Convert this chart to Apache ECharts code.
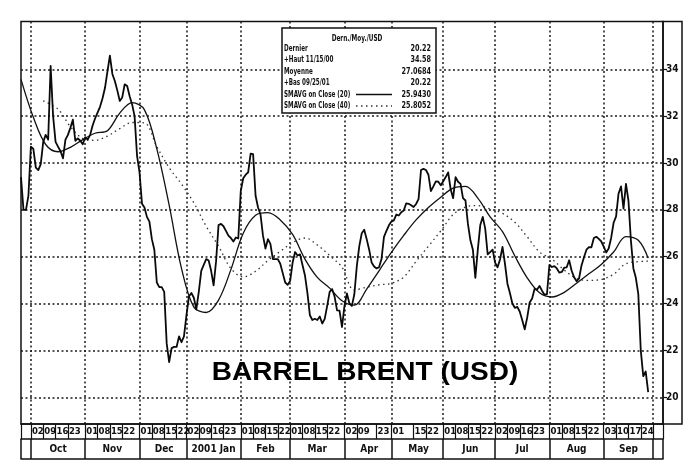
<!DOCTYPE html>
<html>
<head>
<meta charset="utf-8">
<script src="https://cdn.jsdelivr.net/npm/echarts@6/dist/echarts.min.js"></script>
<style>
  html, body { margin: 0; padding: 0; background: #fff; }
  #chart { width: 693px; height: 470px; }
</style>
</head>
<body>
<div id="chart"></div>
<script>
// Trading calendar (London sessions)
const firstSession = '2000-09-26';
const lastSession = '2001-10-05';
const holidays = ['2000-12-25', '2000-12-26', '2001-01-01', '2001-04-13',
                  '2001-04-16', '2001-05-07', '2001-05-28', '2001-08-27'];

// Weekly labels printed in the date strip
const weekLabels = [
  '2000-10-02', '2000-10-09', '2000-10-16', '2000-10-23',
  '2000-11-01', '2000-11-08', '2000-11-15', '2000-11-22',
  '2000-12-01', '2000-12-08', '2000-12-15', '2000-12-22',
  '2001-01-02', '2001-01-09', '2001-01-16', '2001-01-23',
  '2001-02-01', '2001-02-08', '2001-02-15', '2001-02-22',
  '2001-03-01', '2001-03-08', '2001-03-15', '2001-03-22',
  '2001-04-02', '2001-04-09', '2001-04-23',
  '2001-05-01', '2001-05-15', '2001-05-22',
  '2001-06-01', '2001-06-08', '2001-06-15', '2001-06-22',
  '2001-07-02', '2001-07-09', '2001-07-16', '2001-07-23',
  '2001-08-01', '2001-08-08', '2001-08-15', '2001-08-22',
  '2001-09-03', '2001-09-10', '2001-09-17', '2001-09-24'
];
const monthKeys = ['2000-10', '2000-11', '2000-12', '2001-01', '2001-02', '2001-03',
                   '2001-04', '2001-05', '2001-06', '2001-07', '2001-08', '2001-09'];
const monthNames = ['Oct', 'Nov', 'Dec', '2001 Jan', 'Feb', 'Mar',
                    'Apr', 'May', 'Jun', 'Jul', 'Aug', 'Sep'];
const priceTicks = [20, 22, 24, 26, 28, 30, 32, 34];

// Daily closing price, Brent barrel (USD), one value per session from 2000-09-26
const close = [
  29.4, 28.0, 28.0, 28.6, 30.7, 30.6, 29.8, 29.7, 29.95, 30.9,
  31.2, 31.0, 34.14, 32.0, 30.9, 30.7, 30.5, 30.2, 31.0, 31.2,
  31.5, 31.85, 30.95, 31.05, 30.95, 30.8, 31.1, 31.0, 31.2, 31.6,
  31.9, 32.15, 32.4, 32.75, 33.2, 33.9, 34.58, 33.8, 33.5, 33.1,
  32.65, 32.8, 33.36, 33.29, 32.85, 32.5, 32.0, 30.3, 29.6, 28.26,
  28.1, 27.7, 27.5, 26.75, 26.3, 24.9, 24.7, 24.7, 24.5, 22.3,
  21.5, 22.1, 22.15, 22.15, 22.6, 22.35, 22.6, 23.5, 24.3, 24.45,
  24.25, 23.75, 24.5, 25.4, 25.65, 25.9, 25.84, 25.4, 24.78, 25.8,
  27.35, 27.4, 27.3, 27.1, 26.9, 26.8, 26.65, 26.82, 26.78, 28.8,
  29.35, 29.5, 29.6, 30.4, 30.38, 28.6, 28.1, 27.8, 26.9, 26.35,
  26.75, 26.55, 25.9, 25.9, 25.9, 25.7, 25.3, 24.9, 24.8, 24.97,
  25.75, 26.2, 26.05, 26.1, 25.65, 25.2, 24.45, 23.5, 23.3, 23.35,
  23.3, 23.45, 23.15, 23.35, 23.9, 24.5, 24.62, 24.3, 23.71, 23.7,
  23.0, 23.9, 24.43, 24.0, 23.9, 24.4, 25.6, 26.45, 27.0, 27.15,
  26.75, 26.3, 25.75, 25.58, 25.5, 25.55, 25.9, 26.85, 27.1, 27.34,
  27.5, 27.55, 27.8, 27.76, 27.9, 27.97, 28.28, 28.26, 28.2, 28.12,
  28.25, 28.46, 29.7, 29.75, 29.7, 29.5, 28.8, 29.0, 29.22, 29.2,
  29.05, 29.22, 29.4, 29.6, 28.88, 28.5, 29.4, 29.2, 29.11, 28.5,
  28.4, 27.4, 26.7, 26.3, 25.1, 26.3, 27.35, 27.7, 27.2, 26.1,
  26.2, 26.3, 25.75, 25.55, 25.88, 26.42, 25.7, 24.85, 24.45, 24.0,
  23.82, 23.86, 23.65, 23.29, 22.9, 23.4, 24.05, 24.22, 24.63, 24.6,
  24.75, 24.55, 24.38, 24.4, 25.65, 25.56, 25.6, 25.5, 25.32, 25.35,
  25.53, 25.55, 25.85, 25.4, 25.12, 24.95, 25.07, 25.63, 25.98, 26.3,
  26.41, 26.4, 26.8, 26.85, 26.76, 26.65, 26.43, 26.18, 26.35, 26.8,
  27.45, 27.72, 28.7, 29.0, 28.05, 29.11, 28.4, 26.7, 25.5, 25.1,
  24.4, 22.0, 20.9, 21.1, 20.22
];

// Simple moving average of the close, 20 sessions: [session index, value]
const sma20 = [
  [0, 33.57], [5, 31.95], [10, 30.79], [15, 30.48], [20, 30.67], [25, 31.0],
  [30, 31.27], [35, 31.38], [40, 32.13], [45, 32.58], [50, 32.27], [55, 30.6],
  [60, 28.2], [65, 25.5], [70, 23.85], [75, 23.62], [80, 24.15], [85, 25.45],
  [90, 27.0], [95, 27.77], [100, 27.88], [105, 27.57], [110, 26.95], [115, 25.9],
  [120, 25.12], [125, 24.66], [130, 24.12], [135, 23.93], [140, 24.62], [145, 25.4],
  [150, 26.19], [155, 26.91], [160, 27.57], [165, 28.1], [170, 28.54], [175, 28.93],
  [180, 29.0], [185, 28.5], [190, 27.7], [195, 27.07], [200, 26.03], [205, 25.1],
  [210, 24.46], [215, 24.28], [220, 24.48], [225, 24.87], [230, 25.27], [235, 25.67],
  [240, 26.2], [245, 26.86], [250, 26.7], [254, 25.94]
];

// Simple moving average of the close, 40 sessions: [session index, value]
const sma40 = [
  [9, 32.65], [15, 32.3], [20, 31.55], [25, 31.05], [30, 30.97], [35, 31.15],
  [40, 31.47], [45, 31.73], [50, 31.71], [55, 30.7], [60, 29.8], [65, 29.1],
  [70, 28.3], [75, 27.3], [80, 26.45], [85, 25.5], [90, 25.14], [95, 25.38],
  [100, 25.84], [105, 26.23], [110, 26.6], [115, 26.8], [120, 26.5], [125, 26.05],
  [130, 25.55], [135, 24.58], [140, 24.7], [145, 24.8], [150, 24.86], [155, 25.13],
  [160, 25.8], [165, 26.45], [170, 27.1], [175, 27.8], [180, 28.12], [185, 28.18],
  [190, 28.04], [195, 27.85], [200, 27.47], [205, 26.85], [210, 26.2], [215, 25.9],
  [220, 25.43], [225, 25.07], [230, 24.99], [235, 25.03], [240, 25.25], [245, 25.7],
  [254, 25.81]
];

// Summary box rows
const summaryTitle = 'Dern./Moy./USD';
const summaryRows = [
  ['Dernier', '20.22'],
  ['+Haut 11/15/00', '34.58'],
  ['Moyenne', '27.0684'],
  ['+Bas 09/25/01', '20.22'],
  ['SMAVG on Close (20)', '25.9430'],
  ['SMAVG on Close (40)', '25.8052']
];
const chartTitle = 'BARREL BRENT (USD)';

function buildSessions(start, end, skip) {
  const out = [];
  const d = new Date(start + 'T00:00:00Z');
  const stop = new Date(end + 'T00:00:00Z');
  while (d <= stop) {
    const wd = d.getUTCDay();
    const s = d.toISOString().slice(0, 10);
    if (wd !== 0 && wd !== 6 && skip.indexOf(s) < 0) out.push(s);
    d.setUTCDate(d.getUTCDate() + 1);
  }
  return out;
}

const sessions = buildSessions(firstSession, lastSession, holidays);
const lastIdx = sessions.length - 1;

// month boundaries = first session of each month
const monthStarts = new Set();
for (let i = 1; i < sessions.length; i++) {
  if (sessions[i].slice(0, 7) !== sessions[i - 1].slice(0, 7)) monthStarts.add(i);
}
const weekIdx = new Set(weekLabels.map(d => sessions.indexOf(d)));
const weekTickIdx = new Set([0, lastIdx, ...weekIdx, ...monthStarts]);
const monthTickIdx = new Set([0, lastIdx, ...monthStarts]);

// centre of each month cell for the month name
const monthMid = {};
monthKeys.forEach((k, m) => {
  const first = sessions.findIndex(s => s.slice(0, 7) === k);
  let next = first;
  while (next <= lastIdx && sessions[next].slice(0, 7) === k) next++;
  monthMid[Math.round((first + next) / 2)] = monthNames[m];
});

const INK = '#111';
const NARROW = '"Liberation Sans Narrow", "DejaVu Sans Condensed", "Liberation Sans", sans-serif';
const gridDots = { color: '#1a1a1a', width: 1.5, type: [2, 2.5] };

const chart = echarts.init(document.getElementById('chart'), null, { renderer: 'canvas' });

// summary box graphics (condensed lettering)
const box = { x: 282, y: 28, w: 154, h: 85 };
const rowY = [49, 60, 71.5, 83, 94.5, 106];
const summaryGraphics = [
  { type: 'rect', shape: { x: box.x, y: box.y, width: box.w, height: box.h },
    style: { fill: '#fff', stroke: INK, lineWidth: 1.5 }, z: 50 },
  { type: 'text', x: box.x + box.w / 2 - 2, y: 39, scaleX: 0.8, z: 51,
    style: { text: summaryTitle, align: 'center', verticalAlign: 'middle',
             font: 'bold 8px ' + NARROW, fill: INK } }
];
summaryRows.forEach((r, k) => {
  summaryGraphics.push({ type: 'text', x: box.x + 2, y: rowY[k], scaleX: 0.78, z: 51,
    style: { text: r[0], align: 'left', verticalAlign: 'middle', font: 'bold 8px ' + NARROW, fill: INK } });
  summaryGraphics.push({ type: 'text', x: box.x + 149, y: rowY[k], scaleX: 0.9, z: 51,
    style: { text: r[1], align: 'right', verticalAlign: 'middle', font: 'bold 8px ' + NARROW, fill: INK } });
});
summaryGraphics.push({ type: 'line', z: 51, shape: { x1: 356, y1: rowY[4], x2: 392, y2: rowY[4] },
  style: { stroke: INK, lineWidth: 1.3 } });
summaryGraphics.push({ type: 'line', z: 51, shape: { x1: 356, y1: rowY[5], x2: 392, y2: rowY[5] },
  style: { stroke: '#333', lineWidth: 1.3, lineDash: [1.5, 3.5] } });

chart.setOption({
  animation: false,
  backgroundColor: '#fff',
  grid: {
    left: 21, right: 30, top: 21.5, bottom: 46,
    containLabel: false, outerBoundsMode: 'none',
    show: true, borderColor: INK, borderWidth: 1.5, backgroundColor: 'transparent'
  },
  xAxis: [
    {
      type: 'category', data: sessions, boundaryGap: false, position: 'bottom',
      axisLine: { show: true, lineStyle: { color: INK, width: 1.5 } },
      axisTick: { show: true, interval: i => weekTickIdx.has(i), length: 15, inside: false,
                  lineStyle: { color: INK, width: 1.2 } },
      axisLabel: { show: true, interval: i => weekIdx.has(i), formatter: v => v.slice(8),
                   align: 'left', margin: 3, padding: [0, 0, 0, 1], fontSize: 9.5,
                   fontWeight: 'bold', color: INK, fontFamily: NARROW },
      splitLine: { show: true, interval: i => monthStarts.has(i), lineStyle: gridDots }
    },
    {
      type: 'category', data: sessions, boundaryGap: false, position: 'bottom', offset: 15,
      axisLine: { show: true, lineStyle: { color: INK, width: 1.5 } },
      axisTick: { show: true, interval: i => monthTickIdx.has(i), length: 20, inside: false,
                  lineStyle: { color: INK, width: 1.5 } },
      axisLabel: { show: true, interval: i => monthMid[i] !== undefined,
                   formatter: (v, i) => monthMid[i] || '', margin: 5, fontSize: 10,
                   fontWeight: 'bold', color: INK, fontFamily: NARROW },
      splitLine: { show: false }
    },
    {
      type: 'category', data: sessions, boundaryGap: false, position: 'bottom', offset: 35,
      axisLine: { show: true, lineStyle: { color: INK, width: 1.5 } },
      axisTick: { show: false }, axisLabel: { show: false }, splitLine: { show: false }
    }
  ],
  yAxis: {
    type: 'value', position: 'right', min: 18.86, max: 36.04,
    axisLine: { show: false },
    axisTick: { show: true, customValues: priceTicks, length: 4, lineStyle: { color: INK, width: 1.2 } },
    axisLabel: { customValues: priceTicks, margin: 3, fontSize: 10, fontWeight: 'bold',
                 color: INK, fontFamily: NARROW },
    splitLine: { show: true, lineStyle: gridDots }
  },
  series: [
    {
      name: 'SMAVG on Close (40)', type: 'line', data: sma40, smooth: 0.35,
      showSymbol: false, lineStyle: { color: '#333', width: 1.3, type: [1.5, 3.5] }, z: 3
    },
    {
      name: 'SMAVG on Close (20)', type: 'line', data: sma20, smooth: 0.35,
      showSymbol: false, lineStyle: { color: INK, width: 1.3 }, z: 4
    },
    {
      name: 'Close', type: 'line', data: close, showSymbol: false,
      lineStyle: { color: '#0a0a0a', width: 1.8, join: 'round' }, z: 5
    }
  ],
  graphic: [
    // price-scale panel on the right
    { type: 'rect', shape: { x: 663, y: 21.5, width: 19, height: 402.5 },
      style: { fill: 'none', stroke: INK, lineWidth: 1.5 }, z: 20 },
    { type: 'text', x: 365, y: 373, scaleX: 1.12, z: 30,
      style: { text: chartTitle, align: 'center', verticalAlign: 'middle',
               font: 'bold 25px "Liberation Sans", Arial, sans-serif', fill: '#000' } },
    ...summaryGraphics
  ]
});
</script>
</body>
</html>
